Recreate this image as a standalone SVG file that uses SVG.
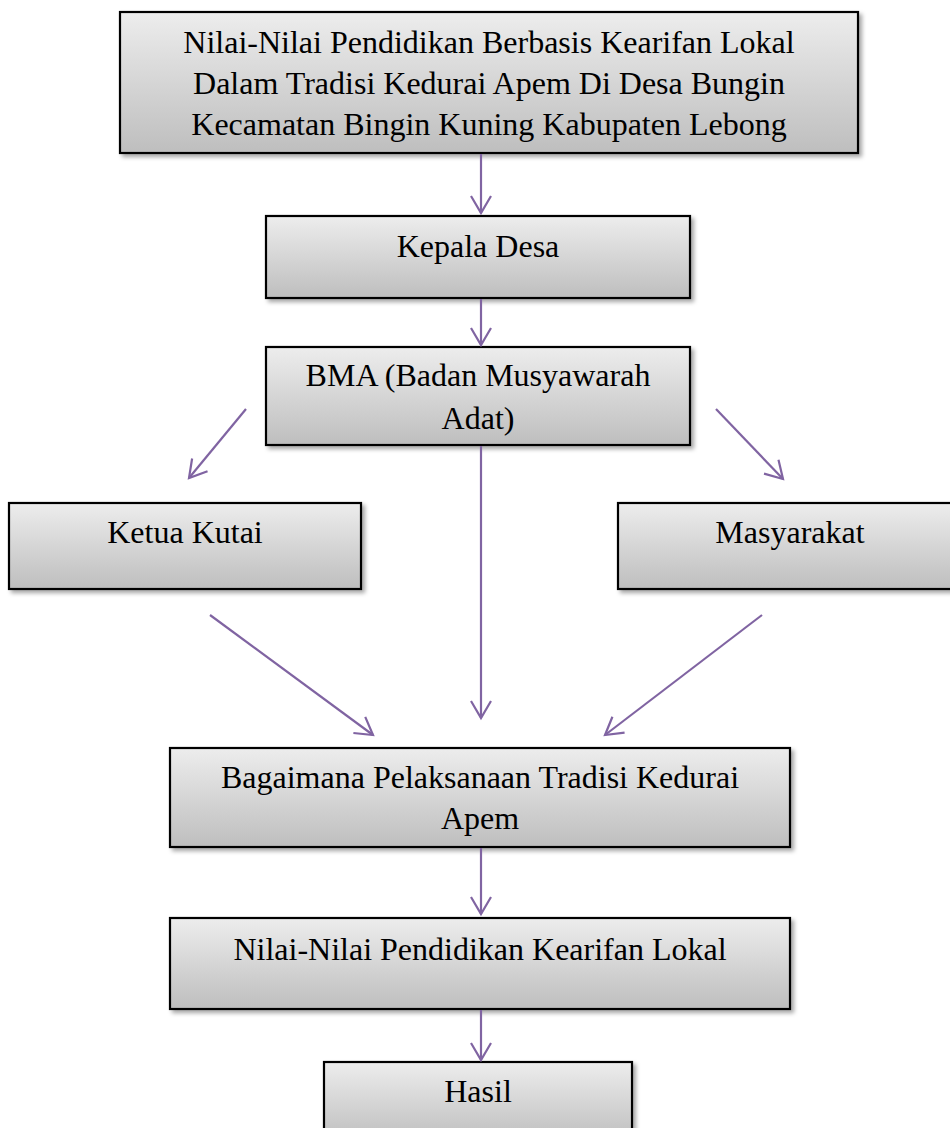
<svg xmlns="http://www.w3.org/2000/svg" width="950" height="1128" viewBox="0 0 950 1128">
<defs>
<linearGradient id="g" x1="0" y1="0" x2="0" y2="1">
<stop offset="0" stop-color="#ededed"/>
<stop offset="1" stop-color="#bebebe"/>
</linearGradient>
<filter id="sh" x="-5%" y="-5%" width="115%" height="130%">
<feDropShadow dx="3" dy="3" stdDeviation="2" flood-color="#000" flood-opacity="0.35"/>
</filter>
<marker id="ah" markerUnits="userSpaceOnUse" viewBox="-20 -12 22 24" refX="0" refY="0" markerWidth="22" markerHeight="24" orient="auto" overflow="visible">
<path d="M-17,-10 L0,0 L-17,10" fill="none" stroke="#8064a2" stroke-width="2.2" stroke-linejoin="miter"/>
</marker>
</defs>
<style>
.box{fill:url(#g);stroke:#000;stroke-width:2.2;filter:url(#sh)}
.t{font-family:"Liberation Serif","Times New Roman",serif;font-size:32px;fill:#000;text-anchor:middle}
.c{stroke:#8064a2;stroke-width:2.2;fill:none;marker-end:url(#ah)}
</style>
<g id="n1"><rect class="box" x="120" y="12" width="738" height="141"/>
<text class="t" x="489" y="53">Nilai-Nilai Pendidikan Berbasis Kearifan Lokal</text>
<text class="t" x="489" y="94">Dalam Tradisi Kedurai Apem Di Desa Bungin</text>
<text class="t" x="489" y="135">Kecamatan Bingin Kuning Kabupaten Lebong</text></g>
<g id="n2"><rect class="box" x="266" y="216" width="424" height="82"/>
<text class="t" x="478" y="257">Kepala Desa</text></g>
<g id="n3"><rect class="box" x="266" y="347" width="424" height="98"/>
<text class="t" x="478" y="386">BMA (Badan Musyawarah</text>
<text class="t" x="478" y="429">Adat)</text></g>
<g id="n4"><rect class="box" x="9" y="503" width="352" height="86"/>
<text class="t" x="185" y="543">Ketua Kutai</text></g>
<g id="n5"><rect class="box" x="618" y="503" width="345" height="86"/>
<text class="t" x="790" y="543">Masyarakat</text></g>
<g id="n6"><rect class="box" x="170" y="748" width="620" height="99"/>
<text class="t" x="480" y="788">Bagaimana Pelaksanaan Tradisi Kedurai</text>
<text class="t" x="480" y="829">Apem</text></g>
<g id="n7"><rect class="box" x="170" y="918" width="620" height="91"/>
<text class="t" x="480" y="960">Nilai-Nilai Pendidikan Kearifan Lokal</text></g>
<g id="n8"><rect class="box" x="324" y="1062" width="308" height="80"/>
<text class="t" x="478" y="1102">Hasil</text></g>
<g id="connectors">
<line class="c" x1="481" y1="154" x2="481" y2="213"/>
<line class="c" x1="481" y1="299" x2="481" y2="345"/>
<line class="c" x1="246" y1="409" x2="189" y2="478"/>
<line class="c" x1="716" y1="409" x2="783" y2="479"/>
<line class="c" x1="481" y1="446" x2="481" y2="718"/>
<line class="c" x1="210" y1="615" x2="373" y2="735"/>
<line class="c" x1="762" y1="615" x2="605" y2="735"/>
<line class="c" x1="481" y1="848" x2="481" y2="914"/>
<line class="c" x1="481" y1="1010" x2="481" y2="1060"/>
</g>
</svg>
